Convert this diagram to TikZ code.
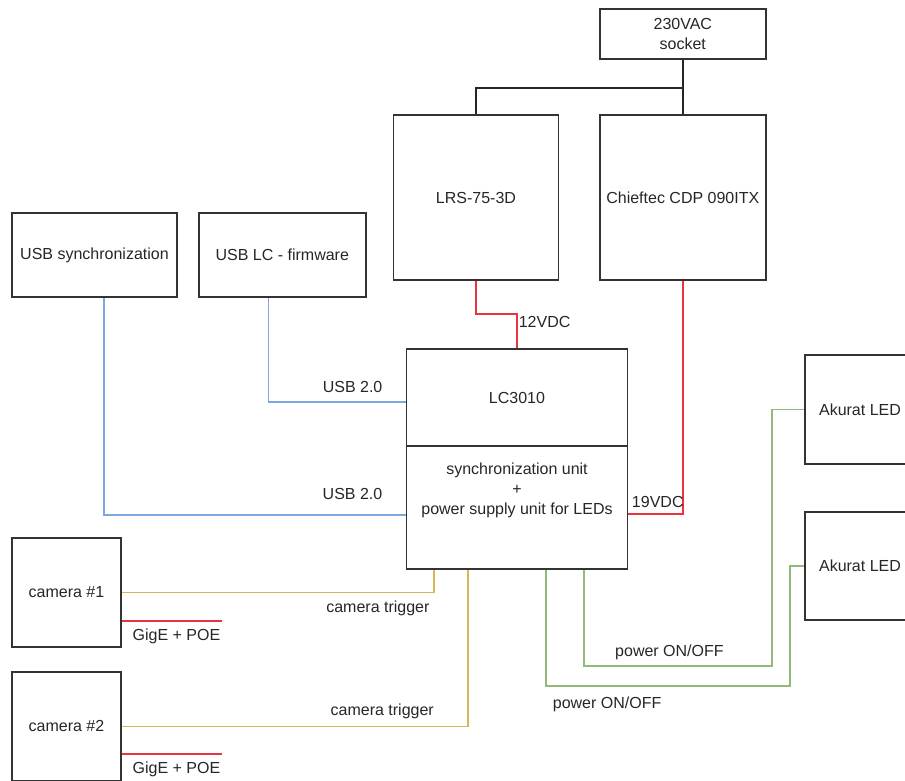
\documentclass[tikz,border=0pt]{standalone}
\usepackage{fontspec}
\setmainfont{Liberation Sans}
\usepackage{tikz}
\usetikzlibrary{positioning}

\definecolor{wirered}{RGB}{232,52,62}
\definecolor{wireblue}{RGB}{126,166,224}
\definecolor{wireyellow}{RGB}{214,182,86}
\definecolor{wiregreen}{RGB}{146,186,120}

\tikzstyle{unit} = [rectangle, draw=black!80, line width=1.8pt, text=black!85, text centered]
\tikzstyle{mains} = [draw=black!85, line width=1.6pt]
\tikzstyle{dcline} = [draw=wirered, line width=1.6pt]
\tikzstyle{usbline} = [draw=wireblue, line width=1.6pt]
\tikzstyle{trigline} = [draw=wireyellow, line width=1.6pt]
\tikzstyle{pwrline} = [draw=wiregreen, line width=1.6pt]
\tikzstyle{lbl} = [inner sep=1pt, text=black!85]

\begin{document}
\begin{tikzpicture}[x=1pt, y=-1pt, every node/.style={font=\fontsize{16}{20}\selectfont}]

\useasboundingbox (0,0) rectangle (905,780);

\node (lrs) [unit, minimum width=165pt, minimum height=165pt] at (476,197.5) {LRS-75-3D};
\node (chieftec) [unit, minimum width=166pt, minimum height=165pt, right=39.5pt of lrs] {Chieftec CDP 090ITX};
\node (socket) [unit, minimum width=166pt, minimum height=50pt, align=center, above=54pt of chieftec] {230VAC\\socket};
\node (usbsync) [unit, minimum width=165pt, minimum height=84pt] at (94.5,255) {USB synchronization};
\node (usblc) [unit, minimum width=167pt, minimum height=84pt, right=20pt of usbsync] {USB LC - firmware};
\node (lctop) [unit, minimum width=221pt, minimum height=97pt] at (517,397.5) {LC3010};
\node (lcbot) [unit, minimum width=221pt, minimum height=123pt, below=-1.8pt of lctop] {};
\node (lctext) [align=center, inner sep=0pt, text=black!85, below=16pt of lctop.south] {synchronization unit\\+\\power supply unit for LEDs};
\node (led1) [unit, minimum width=110pt, minimum height=109pt] at (860,409.5) {Akurat LED};
\node (led2) [unit, minimum width=110pt, minimum height=108pt, below=46pt of led1] {Akurat LED};
\node (cam1) [unit, minimum width=109pt, minimum height=109pt] at (66.5,592.5) {camera \#1};
\node (cam2) [unit, minimum width=109pt, minimum height=109pt, below=23pt of cam1] {camera \#2};
\coordinate (gige1) at (222,621);
\coordinate (gige2) at (222,754);

\draw [mains] (socket.south) -- (chieftec.north);
\draw [mains] ([yshift=-28pt]socket.south) -| (lrs.north);

\draw [dcline] (lrs.south) -- ++(0,33) -| node [lbl, right, pos=0.62] {12VDC} (lctop.north);
\draw [dcline] (chieftec.south) |- node [lbl, above=5pt, pos=0.73] {19VDC} ([yshift=-6.5pt]lcbot.east);

\draw [usbline] ([xshift=-14pt]usblc.south) |- node [lbl, above=8pt, pos=0.807] {USB 2.0} ([yshift=-4.5pt]lctop.west);
\draw [usbline] ([xshift=9.5pt]usbsync.south) |- node [lbl, above=14pt, pos=0.912] {USB 2.0} ([yshift=-7.5pt]lcbot.west);

\draw [trigline] (cam1.east) -| node [lbl, below=7pt, pos=0.41] {camera trigger} ([xshift=28.5pt]lcbot.south west);
\draw [trigline] (cam2.east) -| node [lbl, above=5.5pt, pos=0.376] {camera trigger} ([xshift=62.5pt]lcbot.south west);

\draw [dcline] (cam1.east |- gige1) -- (gige1) node [lbl, anchor=north east, yshift=-6pt] {GigE + POE};
\draw [dcline] (cam2.east |- gige2) -- (gige2) node [lbl, anchor=north east, yshift=-6pt] {GigE + POE};

\draw [pwrline] ([xshift=178.5pt]lcbot.south west) -- ++(0,96) -| node [lbl, above=4pt, pos=0.227] {power ON/OFF} ([xshift=-32pt]led1.west) -- (led1.west);
\draw [pwrline] ([xshift=140.5pt]lcbot.south west) -- ++(0,116) -| node [lbl, below=9.5pt, pos=0.125] {power ON/OFF} ([xshift=-14pt]led2.west) -- (led2.west);

\end{tikzpicture}
\end{document}
